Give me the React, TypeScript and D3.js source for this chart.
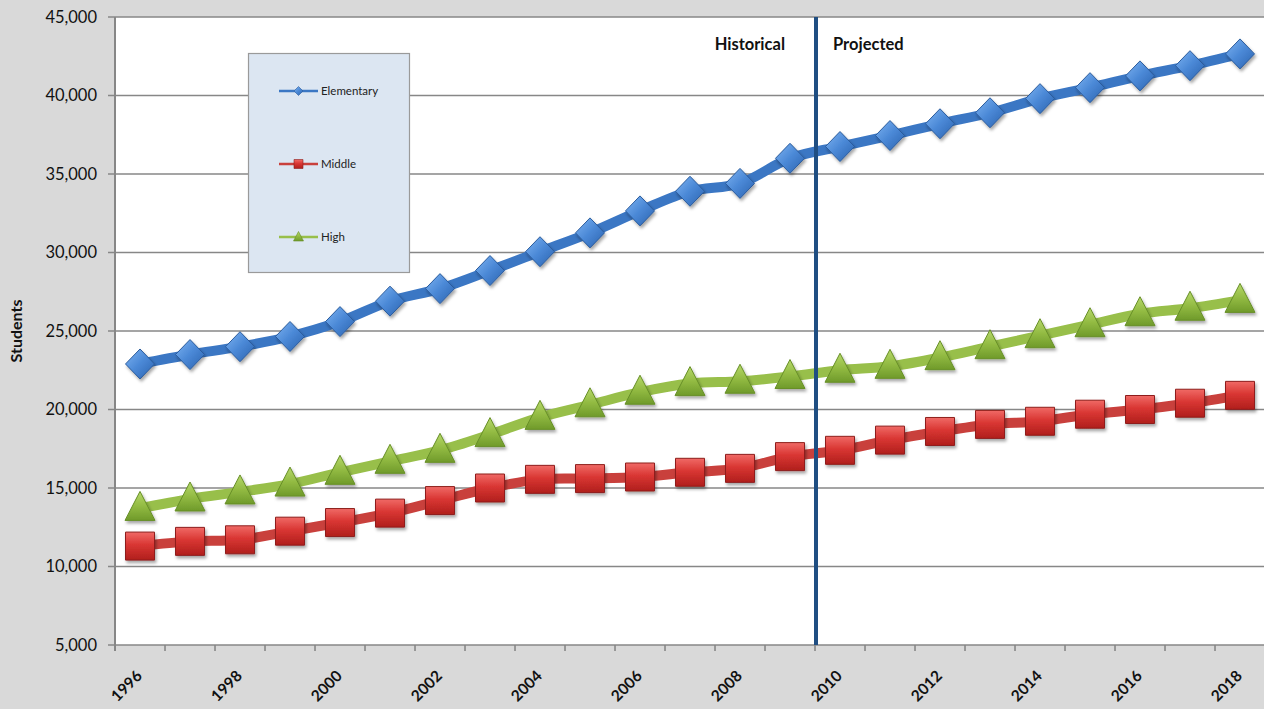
import React from 'react';
import * as d3 from 'd3';

const years = ['1996','1997','1998','1999','2000','2001','2002','2003','2004','2005','2006','2007','2008','2009','2010','2011','2012','2013','2014','2015','2016','2017','2018'];
const elementary = [22900,23500,24000,24650,25600,26900,27700,28850,30050,31250,32650,33900,34400,36000,36750,37450,38200,38900,39800,40500,41250,41900,42650];
const middle = [11300,11600,11700,12250,12800,13400,14200,15000,15550,15600,15700,16000,16250,17000,17400,18050,18600,19050,19250,19700,20000,20400,20900];
const high = [13700,14300,14750,15250,16000,16700,17400,18400,19500,20300,21100,21650,21800,22100,22500,22750,23300,24000,24700,25400,26100,26450,26950];
const yTicks = [5000,10000,15000,20000,25000,30000,35000,40000,45000];
const xLabels = ['1996','1998','2000','2002','2004','2006','2008','2010','2012','2014','2016','2018'];
const seriesNames = ['Elementary','Middle','High'];
const splitYear = '2010';

const W = 1264, H = 709;
const FONT = 'Lato, "Open Sans", sans-serif';

export default function App() {
  const x = d3.scaleBand<string>().domain(years).range([115, 1265]).padding(0);
  const y = d3.scaleLinear().domain([5000, 45000]).range([645, 17]);
  const cx = (yr: string) => (x(yr) as number) + x.bandwidth() / 2;
  const fmt = d3.format(',');
  const line = d3.line<number>()
    .x((_, i) => cx(years[i]))
    .y(v => y(v))
    .curve(d3.curveCatmullRom.alpha(0.5));

  const diamond = 'M0,-15L14.5,0L0,15L-14.5,0Z';
  const square = 'M-14.5,-14L14.5,-14L14.5,14L-14.5,14Z';
  const triangle = 'M0,-17L15,12L-15,12Z';
  const smallDiamond = 'M0,-4.5L4.5,0L0,4.5L-4.5,0Z';
  const smallSquare = 'M-4.5,-4.5L4.5,-4.5L4.5,4.5L-4.5,4.5Z';
  const smallTriangle = 'M0,-5.5L5,4L-5,4Z';

  const series = [
    { name: seriesNames[0], data: elementary, color: '#3b77c4', marker: diamond, small: smallDiamond, grad: 'gBlue', stroke: '#2a5b9c' },
    { name: seriesNames[1], data: middle, color: '#c9403c', marker: square, small: smallSquare, grad: 'gRed', stroke: '#8e1f1c' },
    { name: seriesNames[2], data: high, color: '#98bf4a', marker: triangle, small: smallTriangle, grad: 'gGreen', stroke: '#678f27' },
  ];

  const splitX = (x(splitYear) as number) + 1;
  const legendY = [91, 164, 237];

  return (
    <svg width={W} height={H} style={{ position: 'absolute', left: 0, top: 0, display: 'block' }} fontFamily={FONT}>
      <defs>
        <linearGradient id="gBlue" x1="0" y1="0" x2="1" y2="1">
          <stop offset="0" stopColor="#7fb4f2" />
          <stop offset="0.5" stopColor="#4a88d6" />
          <stop offset="1" stopColor="#2b62ae" />
        </linearGradient>
        <linearGradient id="gRed" x1="0" y1="0" x2="0" y2="1">
          <stop offset="0" stopColor="#f06a66" />
          <stop offset="0.45" stopColor="#d93633" />
          <stop offset="1" stopColor="#b01f1c" />
        </linearGradient>
        <linearGradient id="gGreen" x1="0" y1="0" x2="0" y2="1">
          <stop offset="0" stopColor="#b6d86a" />
          <stop offset="0.5" stopColor="#93bb43" />
          <stop offset="1" stopColor="#6f9a2a" />
        </linearGradient>
        <filter id="shadow" x="-50%" y="-50%" width="200%" height="200%">
          <feDropShadow dx="1.5" dy="2.5" stdDeviation="1.8" floodColor="#000" floodOpacity="0.35" />
        </filter>
      </defs>
      <rect x={0} y={0} width={W} height={H} fill="#d9d9d9" />
      <rect x={115} y={17} width={1150} height={628} fill="#ffffff" />
      {yTicks.map(t => (
        <line key={'g' + t} x1={108} x2={1265} y1={y(t)} y2={y(t)} stroke="#878787" strokeWidth={1.6} />
      ))}
      <line x1={115} x2={115} y1={17} y2={651} stroke="#878787" strokeWidth={2} />
      {d3.range(years.length + 1).map(i => {
        const px = 115 + i * x.bandwidth();
        return <line key={'t' + i} x1={px} x2={px} y1={645} y2={651} stroke="#878787" strokeWidth={1.6} />;
      })}
      {yTicks.map(t => (
        <text key={'yl' + t} x={97} y={y(t)} dy="0.36em" textAnchor="end" fontSize={16.5} fill="#111">{fmt(t)}</text>
      ))}
      {xLabels.map(l => (
        <text key={'xl' + l} transform={`translate(${cx(l) + 3},${677}) rotate(-45)`} textAnchor="end" fontSize={15.5} fontWeight="bold" fill="#111">{l}</text>
      ))}
      <text transform="translate(22,331) rotate(-90)" textAnchor="middle" fontSize={16} fontWeight="bold" fill="#111">Students</text>

      {series.map(s => (
        <g key={s.name}>
          <path d={line(s.data) || ''} fill="none" stroke={s.color} strokeWidth={10} strokeLinejoin="round" />
          {s.data.map((v, i) => (
            <path key={i} d={s.marker} transform={`translate(${cx(years[i])},${y(v)})`} fill={`url(#${s.grad})`} stroke={s.stroke} strokeWidth={1} filter="url(#shadow)" />
          ))}
        </g>
      ))}

      <line x1={splitX} x2={splitX} y1={17} y2={645} stroke="#1f4e82" strokeWidth={4} />
      <text x={785} y={50} textAnchor="end" fontSize={16.5} fontWeight="bold" fill="#111">Historical</text>
      <text x={833} y={50} textAnchor="start" fontSize={16.5} fontWeight="bold" fill="#111">Projected</text>

      <rect x={248.5} y={53.5} width={161} height={219} fill="#dce6f2" stroke="#9a9a9a" strokeWidth={1.2} />
      {series.map((s, i) => (
        <g key={'lg' + s.name}>
          <line x1={279} x2={318} y1={legendY[i]} y2={legendY[i]} stroke={s.color} strokeWidth={2.5} />
          <path d={s.small} transform={`translate(298.5,${legendY[i]})`} fill={`url(#${s.grad})`} stroke={s.stroke} strokeWidth={0.6} />
          <text x={321} y={legendY[i]} dy="0.35em" fontSize={11.5} fill="#222">{s.name}</text>
        </g>
      ))}
    </svg>
  );
}
